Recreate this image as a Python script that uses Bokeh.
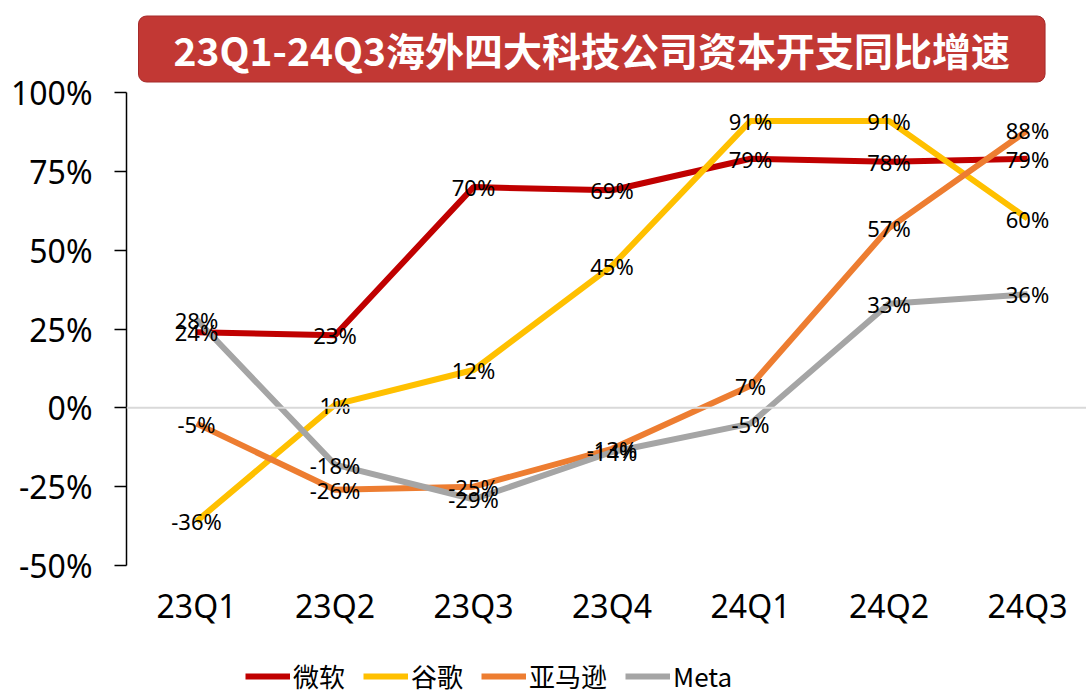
from bokeh.plotting import figure
from bokeh.layouts import column
from bokeh.models import Range1d, FixedTicker, Span, Legend, LegendItem, Title, ColumnDataSource
from bokeh.core.properties import value
from bokeh.embed import file_html
from bokeh.resources import INLINE

categories = ["23Q1", "23Q2", "23Q3", "23Q4", "24Q1", "24Q2", "24Q3"]
microsoft = [24, 23, 70, 69, 79, 78, 79]
google = [-36, 1, 12, 45, 91, 91, 60]
amazon = [-5, -26, -25, -13, 7, 57, 88]
meta = [28, -18, -29, -14, -5, 33, 36]
series_names = ["微软", "谷歌", "亚马逊", "Meta"]
series_values = [microsoft, google, amazon, meta]
colors = ["#C00000", "#FFC000", "#ED7D31", "#A5A5A5"]
y_ticks = [-50, -25, 0, 25, 50, 75, 100]
title_text = "23Q1-24Q3海外四大科技公司资本开支同比增速"

W = 1086
H_MAIN, H_LEG = 637, 56
p = figure(width=W, height=H_MAIN, output_backend="svg", toolbar_location=None,
           x_range=Range1d(-0.5054, 6.426), y_range=Range1d(-50, 100),
           min_border_left=126, min_border_right=0, min_border_top=92, min_border_bottom=72)
p.outline_line_color = None
p.xgrid.visible = False
p.ygrid.visible = False
p.background_fill_color = "white"
p.border_fill_color = "white"

# y axis
p.yaxis.ticker = FixedTicker(ticks=y_ticks)
p.yaxis.major_label_overrides = {v: f"{v}%" for v in y_ticks}
p.yaxis.axis_line_color = "black"
p.yaxis.axis_line_width = 1.5
p.yaxis.major_tick_line_color = "black"
p.yaxis.major_tick_line_width = 1.5
p.yaxis.major_tick_out = 12
p.yaxis.major_tick_in = 0
p.yaxis.minor_tick_line_color = None
p.yaxis.major_label_standoff = 22
p.yaxis.major_label_text_font = "Noto Sans"
p.yaxis.major_label_text_font_size = "32px"
p.yaxis.major_label_text_color = "black"

# x axis
xs = list(range(len(categories)))
p.xaxis.ticker = FixedTicker(ticks=xs)
p.xaxis.major_label_overrides = {i: c for i, c in enumerate(categories)}
p.xaxis.axis_line_color = None
p.xaxis.major_tick_line_color = None
p.xaxis.minor_tick_line_color = None
p.xaxis.major_tick_out = 0
p.xaxis.major_label_standoff = 18
p.xaxis.major_label_text_font = "Noto Sans"
p.xaxis.major_label_text_font_size = "32px"
p.xaxis.major_label_text_color = "black"

p.add_layout(Span(location=0, dimension="width", line_color="#D9D9D9", line_width=2))

sources = []
for name, vals, col in zip(series_names, series_values, colors):
    src = ColumnDataSource(dict(x=xs, y=vals, lab=[f"{v}%" for v in vals]))
    sources.append(src)
    p.line("x", "y", source=src, line_color=col, line_width=6)

for src in sources:
    p.text("x", "y", text="lab", source=src, text_align="center", text_baseline="middle",
           text_font=value("Noto Sans"), text_font_size="22px", text_color="black")

title = Title(text=title_text, align="left", offset=12, standoff=21,
              text_font="Noto Sans CJK SC", text_font_style="bold", text_font_size="39px",
              text_color="white", background_fill_color="#C23834",
              border_line_color="#A52A2A", border_line_width=1,
              border_radius=8, padding=(35, 5))
p.add_layout(title, "above")

# legend strip (series drawn outside its visible range; only the legend shows)
q = figure(width=W, height=H_LEG, output_backend="svg", toolbar_location=None,
           x_range=Range1d(0, 1), y_range=Range1d(1000, 1001),
           x_axis_location=None, y_axis_location=None,
           min_border_left=126, min_border_right=0, min_border_top=0, min_border_bottom=0)
q.outline_line_color = None
q.xgrid.visible = False
q.ygrid.visible = False
items = []
for name, src, col in zip(series_names, sources, colors):
    r = q.line("x", "y", source=src, line_color=col, line_width=6)
    items.append(LegendItem(label=name, renderers=[r]))
legend = Legend(items=items, orientation="horizontal", location=(119, -1),
                glyph_width=45, glyph_height=30, label_standoff=3, spacing=18,
                padding=0, margin=0, border_line_color=None, background_fill_alpha=0,
                label_text_font="Noto Sans CJK SC", label_text_font_size="26px",
                label_text_color="black")
q.add_layout(legend, "center")

layout = column(p, q, spacing=0)
open("out.html", "w").write(file_html(layout, INLINE))
